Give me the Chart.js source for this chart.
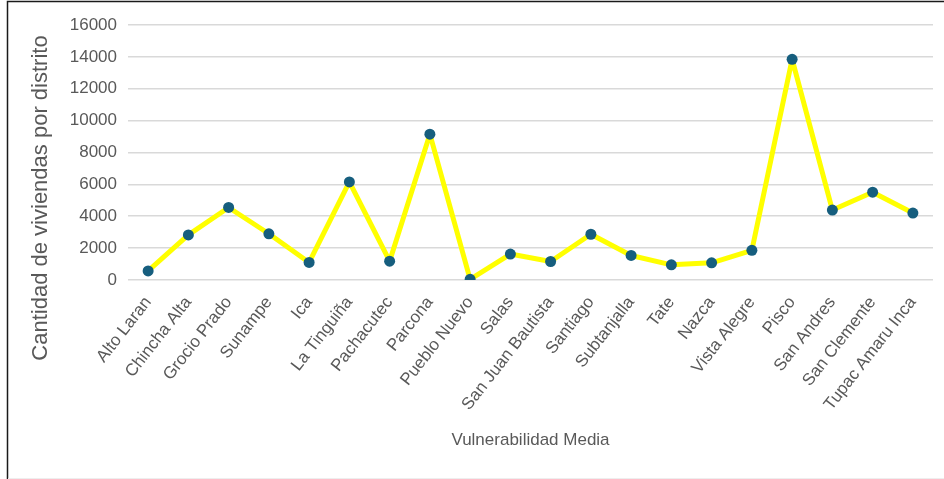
<!DOCTYPE html>
<html>
<head>
<meta charset="utf-8">
<script src="https://cdn.jsdelivr.net/npm/chart.js@4/dist/chart.umd.min.js"></script>
<style>
  html, body { margin: 0; padding: 0; background: #ffffff; }
  #wrap { position: relative; width: 944px; height: 479px; }
</style>
</head>
<body>
<div id="wrap"><canvas id="chart"></canvas></div>
<script>
// Districts with medium vulnerability and their dwelling counts
const districts = [
  'Alto Laran', 'Chincha Alta', 'Grocio Prado', 'Sunampe', 'Ica',
  'La Tinguiña', 'Pachacutec', 'Parcona', 'Pueblo Nuevo', 'Salas',
  'San Juan Bautista', 'Santiago', 'Subtanjalla', 'Tate', 'Nazca',
  'Vista Alegre', 'Pisco', 'San Andres', 'San Clemente', 'Tupac Amaru Inca'
];
const viviendas = [
  570, 2830, 4550, 2900, 1100,
  6150, 1180, 9150, 40, 1630,
  1160, 2870, 1540, 950, 1080,
  1860, 13850, 4390, 5510, 4200
];
const yTicks = [0, 2000, 4000, 6000, 8000, 10000, 12000, 14000, 16000];
const xTitle = 'Vulnerabilidad Media';
const yTitle = 'Cantidad de viviendas por distrito';

const FONT = '"Liberation Sans", Arial, sans-serif';
const TEXT = '#595959';

// Frame around the figure and the two axis titles
const decor = {
  id: 'decor',
  afterDraw(chart) {
    const ctx = chart.ctx;
    const a = chart.chartArea;
    ctx.save();
    // outer frame
    ctx.strokeStyle = '#1a1a1a';
    ctx.lineWidth = 1.5;
    ctx.beginPath();
    ctx.moveTo(7.5, 479);
    ctx.lineTo(7.5, 1.5);
    ctx.lineTo(944, 1.5);
    ctx.stroke();
    ctx.strokeStyle = '#eeeeee';
    ctx.lineWidth = 1;
    ctx.beginPath();
    ctx.moveTo(8, 478.5);
    ctx.lineTo(944, 478.5);
    ctx.stroke();

    ctx.fillStyle = TEXT;
    ctx.textAlign = 'center';
    ctx.textBaseline = 'middle';
    // x axis title
    ctx.font = '17px ' + FONT;
    ctx.fillText(xTitle, (a.left + a.right) / 2, 440);
    // y axis title
    ctx.translate(41, 198);
    ctx.rotate(-Math.PI / 2);
    ctx.font = '22px ' + FONT;
    ctx.fillText(yTitle, 0, 0);
    ctx.restore();
  }
};

new Chart(document.getElementById('chart'), {
  type: 'line',
  data: {
    labels: districts,
    datasets: [{
      data: viviendas,
      borderColor: '#ffff00',
      borderWidth: 5,
      borderJoinStyle: 'round',
      borderCapStyle: 'round',
      tension: 0,
      pointRadius: 5.5,
      pointHoverRadius: 5.5,
      pointBackgroundColor: '#165e7e',
      pointBorderColor: '#165e7e',
      pointBorderWidth: 0,
      fill: false
    }]
  },
  options: {
    responsive: true,
    maintainAspectRatio: false,
    animation: false,
    events: [],
    layout: { padding: { left: 0, right: 11, top: 25, bottom: 0 } },
    plugins: {
      legend: { display: false },
      tooltip: { enabled: false },
      title: { display: false }
    },
    scales: {
      x: {
        offset: true,
        grid: { display: false, drawTicks: false },
        border: { display: false },
        ticks: {
          color: TEXT,
          font: { family: FONT, size: 17 },
          minRotation: 52,
          maxRotation: 52,
          autoSkip: false,
          padding: 13
        },
        afterFit(scale) { scale.height = 199; }
      },
      y: {
        min: 0,
        max: 16000,
        afterBuildTicks(scale) { scale.ticks = yTicks.map(v => ({ value: v })); },
        grid: { color: '#d9d9d9', lineWidth: 1.6, drawTicks: false },
        border: { display: false },
        ticks: {
          color: TEXT,
          font: { family: FONT, size: 17 },
          padding: 11,
          callback: v => String(v)
        },
        afterFit(scale) { scale.width = 128; }
      }
    }
  },
  plugins: [decor]
});
</script>
</body>
</html>
